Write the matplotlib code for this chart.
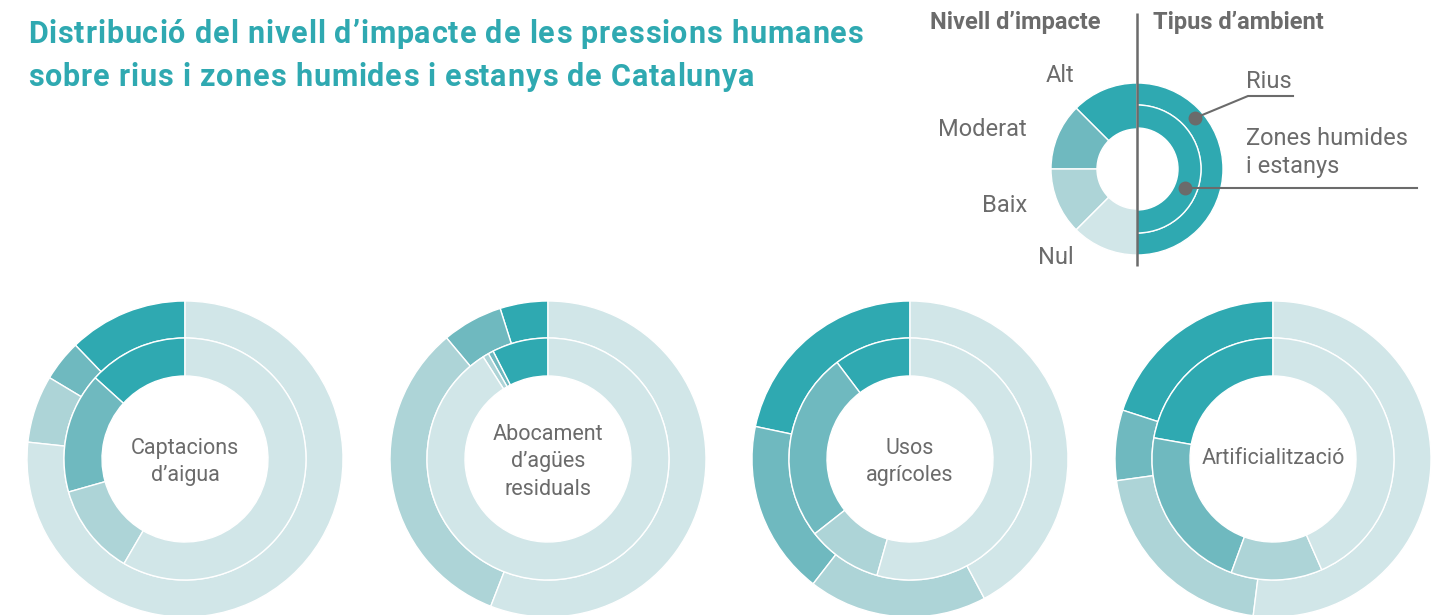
import matplotlib
matplotlib.use("Agg")
import matplotlib.pyplot as plt

# nivells d'impacte i colors
nivells = ["Alt", "Moderat", "Baix", "Nul"]
colors = ["#2fa9b1", "#6fb9bf", "#add4d7", "#d1e6e8"]

pressions = ["Captacions\nd’aigua", "Abocament\nd’agües\nresiduals",
             "Usos\nagrícoles", "Artificialització"]

# % per nivell (Alt, Moderat, Baix, Nul)
rius = [
    [12.2, 4.2, 6.9, 76.7],
    [4.9, 6.2, 33.0, 55.9],
    [21.7, 17.8, 18.3, 42.2],
    [20.0, 7.2, 20.8, 52.0],
]
zones = [
    [13.3, 16.1, 12.2, 58.4],
    [7.5, 0.7, 0.8, 91.0],
    [10.3, 25.3, 10.0, 54.4],
    [22.2, 22.2, 12.2, 43.4],
]

titol = ["Distribució del nivell d’impacte de les pressions humanes",
         "sobre rius i zones humides i estanys de Catalunya"]

W, H = 1447, 615
TEAL = "#2fa9b1"
GRAY = "#6b6b6b"
plt.rcParams["font.family"] = ["Roboto", "DejaVu Sans"]

fig = plt.figure(figsize=(W / 100, H / 100), dpi=100)
ax = fig.add_axes([0, 0, 1, 1])
ax.set_xlim(0, W)
ax.set_ylim(0, H)
renderer = fig.canvas.get_renderer()


def Y(y):
    return H - y


def ring(vals, center, r_out, width, cols, start=90):
    ax.pie(vals, colors=cols, radius=r_out, center=center, startangle=start,
           counterclock=True, normalize=False, frame=True,
           wedgeprops=dict(width=width, edgecolor="white", linewidth=1.0))


def text_width(s, **kw):
    # amplada en px; el "|" evita perdre els espais finals
    t = ax.text(0, 0, s + "|", **kw)
    w = t.get_window_extent(renderer).width
    t.remove()
    t = ax.text(0, 0, "|", **kw)
    w -= t.get_window_extent(renderer).width
    t.remove()
    return w


def tracked_text(x, y, s, track, **kw):
    # text amb espaiat entre lletres
    for i, ch in enumerate(s):
        if ch == " ":
            continue
        xi = x + (text_width(s[:i], **kw) if i else 0) + i * track
        ax.text(xi, y, ch, ha="left", va="center", **kw)


# donuts de cada pressió
cx = [185, 548, 910, 1273]
cy = 459
for i in range(4):
    c = (cx[i], Y(cy))
    ring([v / 100 for v in rius[i]], c, 158, 37, colors)
    ring([v / 100 for v in zones[i]], c, 121, 38, colors)
    dy = 3 if "\n" in pressions[i] else 0
    ax.text(cx[i], Y(cy + dy), pressions[i], ha="center", va="center",
            fontsize=15.5, color=GRAY, linespacing=1.42)

# llegenda
lc = (1137, Y(169))
ring([0.125] * 4, lc, 86, 46, colors)
ring([0.5], lc, 86, 22, [TEAL], start=-90)
ring([0.5], lc, 64, 23, [TEAL], start=-90)
ax.plot([1137, 1137], [Y(13), Y(266)], color=GRAY, lw=1.8, solid_capstyle="butt")

ax.text(1100, Y(22), "Nivell d’impacte", ha="right", va="center",
        fontsize=17, fontweight="bold", color=GRAY)
ax.text(1153, Y(22), "Tipus d’ambient", ha="left", va="center",
        fontsize=17, fontweight="bold", color=GRAY)

lab_pos = [(1074, 76), (1027, 129), (1027, 205), (1074, 257)]
for lab, (x, y) in zip(nivells, lab_pos):
    ax.text(x, Y(y), lab, ha="right", va="center", fontsize=17, color=GRAY)

ax.text(1246, Y(81), "Rius", ha="left", va="center", fontsize=17, color=GRAY)
ax.plot([1195, 1248, 1293], [Y(118), Y(96), Y(96)], color=GRAY, lw=1.5)
ax.plot([1195], [Y(118)], "o", ms=9, color=GRAY)
ax.text(1246, Y(152.5), "Zones humides\ni estanys", ha="left", va="center",
        fontsize=17, color=GRAY, linespacing=1.3)
ax.plot([1185, 1417], [Y(188), Y(188)], color=GRAY, lw=1.5)
ax.plot([1185], [Y(188)], "o", ms=9, color=GRAY)

# títol
tkw = dict(fontsize=22, fontweight="bold", color=TEAL)
tracked_text(28, Y(34), titol[0], 0.85, **tkw)
tracked_text(28, Y(77), titol[1], 0.85, **tkw)

ax.set_xlim(0, W)
ax.set_ylim(0, H)
ax.set_aspect("equal")
ax.axis("off")
fig.savefig("out.png", dpi=100)
